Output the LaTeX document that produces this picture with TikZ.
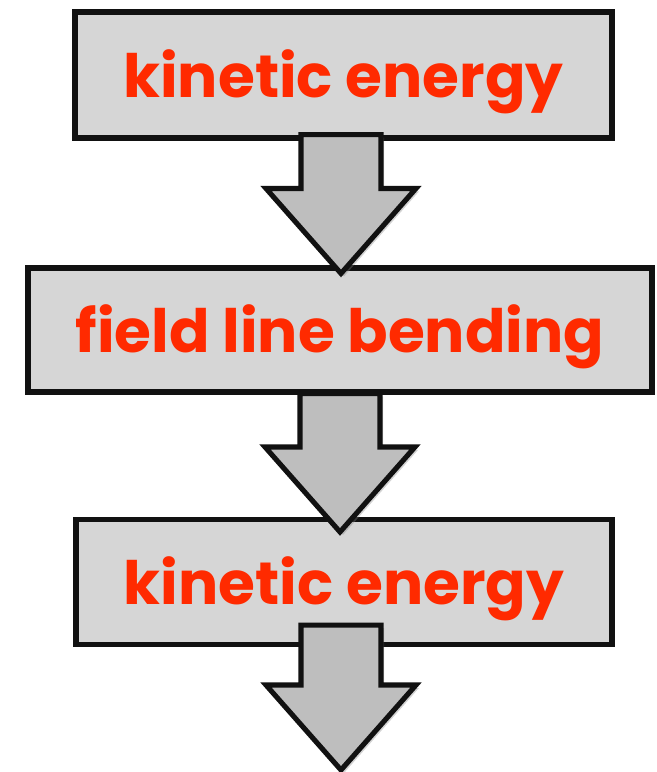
\documentclass[tikz,border=0pt]{standalone}
\usepackage{fontspec}
\setmainfont{Poppins}
\usetikzlibrary{calc,shadows}
\definecolor{fbInk}{HTML}{111111}
\definecolor{fbBox}{HTML}{D6D6D6}
\definecolor{fbArrow}{HTML}{BEBEBE}
\definecolor{fbRed}{HTML}{FF2A00}
\tikzset{
  stage/.style    ={draw=fbInk,line width=2.9pt,fill=fbBox,inner sep=0pt,
                    text height=1.2cm,text depth=0.3cm,
                    font=\fontsize{34}{40}\selectfont\bfseries,text=fbRed},
  fatarrow/.style ={draw=fbInk,line width=2.9pt,fill=fbArrow,line join=miter,
                    drop shadow={opacity=0.35,shadow xshift=0.06,shadow yshift=-0.06}},
}

\begin{document}
\begin{tikzpicture}
\useasboundingbox (0,0) rectangle (13.12,-15.44);
\newcommand{\flowarrow}[2]{\draw[fatarrow] let \p1=(#1), \p2=(#2) in
  (\x1-0.8cm,\y1) -- (\x1+0.8cm,\y1) -- (\x1+0.8cm,\y2+1.7cm) -- (\x1+1.5cm,\y2+1.7cm)
  -- (\x1,\y2) -- (\x1-1.5cm,\y2+1.7cm) -- (\x1-0.8cm,\y2+1.7cm) -- cycle;}

\node[stage,minimum width=10.74cm,minimum height=2.52cm] (ke1) at (6.87,-1.5) {kinetic energy};
\node[stage,minimum width=12.48cm,minimum height=2.48cm] (flb) at (6.8,-6.6) {field line bending};
\node[stage,minimum width=10.72cm,minimum height=2.5cm] (ke2) at (6.88,-11.64) {kinetic energy};
\coordinate (out) at (6.82,-15.4);

\flowarrow{$(ke1.south)+(-0.05,0.12)$}{$(flb.north)+(0,-0.16)$}
\flowarrow{$(flb.south)+(0,0.02)$}{$(ke2.north)+(-0.06,-0.3)$}
\flowarrow{$(ke2.south)+(-0.06,0.44)$}{out}
\end{tikzpicture}
\end{document}
